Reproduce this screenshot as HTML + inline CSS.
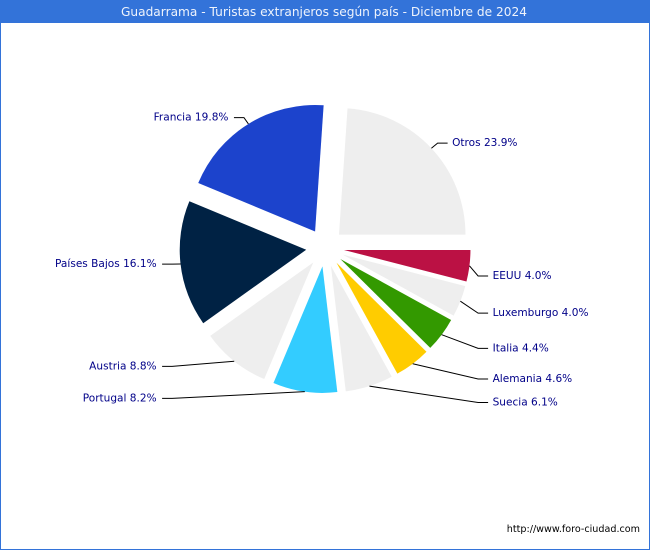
<!DOCTYPE html>
<html>
<head>
<meta charset="utf-8">
<title>Guadarrama - Turistas extranjeros según país - Diciembre de 2024</title>
<style>
html,body{margin:0;padding:0;background:#fff;}
#chart{position:relative;width:650px;height:550px;overflow:hidden;}
svg{display:block;font-family:"DejaVu Sans","Liberation Sans",sans-serif;}
</style>
</head>
<body>
<div id="chart">
<svg id="svg" width="650" height="550" viewBox="0 0 650 550" xmlns="http://www.w3.org/2000/svg">
  <rect x="0.5" y="0.5" width="649" height="549" fill="#fff" stroke="#3373d9" stroke-width="1"/>
  <rect x="0" y="0" width="650" height="23" fill="#3373d9"/>
  <text x="324" y="16" text-anchor="middle" font-size="12.2" fill="#eef3fc">Guadarrama - Turistas extranjeros según país - Diciembre de 2024</text>
  <g id="slices"></g>
  <g id="leaders"></g>
  <g id="labels"></g>
  <text x="640" y="532" text-anchor="end" font-size="9.6" fill="#000">http://www.foro-ciudad.com</text>
</svg>
</div>
<script>
var categories = ["Otros","Francia","Países Bajos","Austria","Portugal","Suecia","Alemania","Italia","Luxemburgo","EEUU"];
var percents = [23.9,19.8,16.1,8.8,8.2,6.1,4.6,4.4,4.0,4.0];
var sliceColors = ["#eeeeee","#1c43cc","#002244","#eeeeee","#33ccff","#eeeeee","#ffcc00","#339900","#eeeeee","#bb1144"];

var NS = "http://www.w3.org/2000/svg";
var cx = 325.1, cy = 247.6, radius = 126.5, explode = 19, labelRadiusX = 154, labelRadiusY = 153;
var total = percents.reduce(function (a, b) { return a + b; }, 0);
var slicesG = document.getElementById("slices");
var leadersG = document.getElementById("leaders");
var labelsG = document.getElementById("labels");

function angleOf(cumulative) { return cumulative / total * 2 * Math.PI; }

var cum = 0;
percents.forEach(function (value, i) {
  var a0 = angleOf(cum);
  var a1 = angleOf(cum + value);
  var mid = (a0 + a1) / 2;
  cum += value;
  var mc = Math.cos(mid), ms = Math.sin(mid);

  // exploded wedge
  var ax = cx + explode * mc, ay = cy - explode * ms;
  var x0 = ax + radius * Math.cos(a0), y0 = ay - radius * Math.sin(a0);
  var x1 = ax + radius * Math.cos(a1), y1 = ay - radius * Math.sin(a1);
  var large = (a1 - a0) > Math.PI ? 1 : 0;
  var slice = document.createElementNS(NS, "path");
  slice.setAttribute("d", "M" + ax + " " + ay + "L" + x0 + " " + y0 + "A" + radius + " " + radius + " 0 " + large + " 0 " + x1 + " " + y1 + "Z");
  slice.setAttribute("fill", sliceColors[i]);
  
  
  slicesG.appendChild(slice);

  // leader line
  var right = mc >= 0;
  var lower = ms < 0;
  var sx = cx + (radius + explode) * mc, sy = cy - (radius + explode) * ms;
  var ex = cx + labelRadiusX * mc, ey = cy - labelRadiusY * ms;
  if (lower && right) { ex = cx + 153; ey += 9.2; }
  if (lower && !right) { ex = cx - 153; ey -= 0.7; }
  var endX = right ? ex + 10 : ex - 10;
  var line = document.createElementNS(NS, "polyline");
  line.setAttribute("points", sx + "," + sy + " " + ex + "," + ey + " " + endX + "," + ey);
  line.setAttribute("fill", "none");
  line.setAttribute("stroke", "#000");
  line.setAttribute("stroke-width", "1");
  
  
  leadersG.appendChild(line);

  // label
  var text = document.createElementNS(NS, "text");
  text.setAttribute("x", right ? endX + 4.5 : endX - 5.5);
  text.setAttribute("y", ey + 3);
  text.setAttribute("text-anchor", right ? "start" : "end");
  text.setAttribute("font-size", "10.55");
  text.setAttribute("fill", "#000088");
  
  
  text.textContent = categories[i] + " " + value.toFixed(1) + "%";
  labelsG.appendChild(text);
});
</script>
</body>
</html>
